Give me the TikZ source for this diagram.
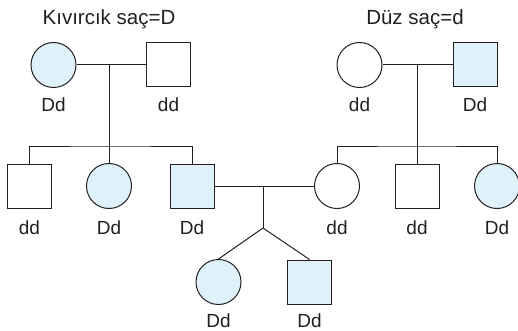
\documentclass[tikz,border=0pt]{standalone}
\usepackage{fontspec}
\setmainfont{Liberation Sans}
\usetikzlibrary{positioning, calc}
\definecolor{carrierblue}{RGB}{223,242,250}
\definecolor{penline}{RGB}{35,31,32}

\begin{document}
\begin{tikzpicture}[
    x=1pt, y=-1pt,
    female/.style={
        circle, draw=penline, line width=1pt,
        minimum size=45pt, inner sep=0pt
    },
    male/.style={
        rectangle, draw=penline, line width=1pt,
        minimum size=44pt, inner sep=0pt
    },
    carrier/.style={fill=carrierblue},
    kinline/.style={line width=1pt, color=penline},
    geno/.style={font=\fontsize{19}{21}\selectfont, text=penline, inner sep=0pt},
    legend/.style={font=\fontsize{20.5}{23}\selectfont, text=penline, inner sep=0pt}
]
\useasboundingbox (0,0) rectangle (518,331);

% --- legend ---
\node[legend] (curly)    at (109,19) {Kıvırcık saç=D};
\node[legend] (straight) at (415,19) {Düz saç=d};

% --- first generation ---
\node[female, carrier] (gmL) at (53.5,65) {};
\node[male]            (gfL) at (168.5,65) {};
\node[female]          (gmR) at (359.5,65) {};
\node[male, carrier]   (gfR) at (475,65) {};

\node[geno] (gmLt) at (53.5,105) {Dd};
\node[geno] (gfLt) at (168.5,105) {dd};
\node[geno] (gmRt) at (359.5,105) {dd};
\node[geno] (gfRt) at (475,105) {Dd};

% --- second generation ---
\node[male]            (sonA)  at (29.5,186) {};
\node[female, carrier] (dauA)  at (109,186) {};
\node[male, carrier]   (father) at (192,186) {};
\node[female]          (mother) at (337,186) {};
\node[male]            (sonB)  at (417,186) {};
\node[female, carrier] (dauB)  at (497,186) {};

\node[geno] (sonAt)   at (29.5,228) {dd};
\node[geno] (dauAt)   at (109,228) {Dd};
\node[geno] (fathert) at (192,228) {Dd};
\node[geno] (mothert) at (337,228) {dd};
\node[geno] (sonBt)   at (417,228) {dd};
\node[geno] (dauBt)   at (497,228) {Dd};

% --- third generation ---
\node[female, carrier] (girl) at (218.5,282) {};
\node[male, carrier]   (boy)  at (309.5,282) {};

\node[geno] (girlt) at (218.5,320.5) {Dd};
\node[geno] (boyt)  at (309.5,320.5) {Dd};

% --- junction points ---
\coordinate (matL) at (109,65);
\coordinate (sibL) at (109,146);
\coordinate (matR) at (417,65);
\coordinate (sibR) at (417,146);
\coordinate (matC) at (263,186);
\coordinate (sibC) at (263,228);

% --- left family ---
\draw[kinline] (gmL.east) -- (gfL.west);
\draw[kinline] (matL) -- (dauA.north);
\draw[kinline] (sonA.north) |- (sibL) -| (father.north);

% --- right family ---
\draw[kinline] (gmR.east) -- (gfR.west);
\draw[kinline] (matR) -- (sonB.north);
\draw[kinline] (mother.north) |- (sibR) -| (dauB.north);

% --- couple and children ---
\draw[kinline] (father.east) -- (mother.west);
\draw[kinline] (matC) -- (sibC);
\draw[kinline] (sibC) -- (girl.north);
\draw[kinline] (sibC) -- (boy.north);

\end{tikzpicture}
\end{document}
